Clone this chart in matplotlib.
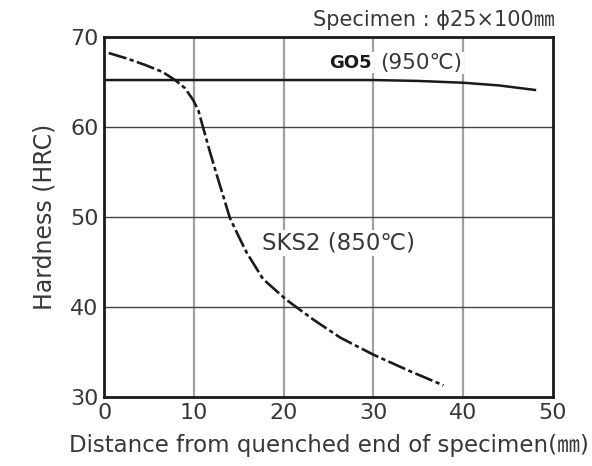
import matplotlib.pyplot as plt

plt.rcParams['font.family'] = ['DejaVu Sans', 'Noto Sans CJK JP']

# GO5 (950℃)
go5_x = [0, 10, 20, 30, 35, 40, 44, 48]
go5_y = [65.2, 65.2, 65.2, 65.2, 65.1, 64.9, 64.6, 64.1]

# SKS2 (850℃)
sks2_x = [0.5, 2.5, 4.5, 6.5, 7.9, 9.0, 9.9, 10.5, 11.0, 11.7, 12.5, 13.3, 14.0,
          15.0, 15.9, 17.7, 20.3, 23.3, 26.3, 30.0, 34.0, 37.8]
sks2_y = [68.2, 67.6, 66.9, 66.1, 65.2, 64.3, 63.0, 61.8, 60.0, 57.5, 54.8, 52.2, 49.9,
          47.8, 46.0, 43.1, 40.8, 38.6, 36.6, 34.7, 32.9, 31.3]

fig = plt.figure(figsize=(5.92, 4.66), dpi=100)
ax = fig.add_axes([0.176, 0.148, 0.758, 0.773])

ax.set_xlim(0, 50)
ax.set_ylim(30, 70)
ax.set_xticks([0, 10, 20, 30, 40, 50])
ax.set_yticks([30, 40, 50, 60, 70])

for xv in [10, 20, 30, 40]:
    ax.axvline(xv, color='#a0a0a0', lw=1.6, zorder=1)
for yv in [40, 50, 60]:
    ax.axhline(yv, color='#444444', lw=1.0, zorder=1)

ax.plot(go5_x, go5_y, color='#1a1a1a', lw=1.8, zorder=3)
ax.plot(sks2_x, sks2_y, color='#1a1a1a', lw=1.9, zorder=3,
        dashes=(7, 1.3, 1.6, 1.3), solid_capstyle='butt')

ax.text(25.1, 67.1, 'GO5', fontsize=13, fontweight='bold', color='#1a1a1a',
        va='center', ha='left',
        bbox=dict(facecolor='white', edgecolor='none', pad=1))
ax.text(30.8, 67.1, '(950℃)', fontsize=15.5, color='#383838', va='center', ha='left',
        bbox=dict(facecolor='white', edgecolor='none', pad=1))
ax.text(17.6, 47.1, 'SKS2 (850℃)', fontsize=16.5, color='#383838', va='center', ha='left',
        bbox=dict(facecolor='white', edgecolor='none', pad=1))

for s in ax.spines.values():
    s.set_linewidth(2.0)
    s.set_color('#1a1a1a')
    s.set_zorder(4)

ax.tick_params(length=0, labelsize=16, labelcolor='#383838', pad=4)
ax.set_xlabel('Distance from quenched end of specimen(㎜)', fontsize=16.5,
              color='#383838', labelpad=8)
ax.set_ylabel('Hardness (HRC)', fontsize=17, color='#383838', labelpad=10)

fig.text(0.937, 0.958, 'Specimen : ϕ25×100㎜', fontsize=15, color='#383838',
         ha='right', va='center')

fig.savefig('out.png', dpi=100)
